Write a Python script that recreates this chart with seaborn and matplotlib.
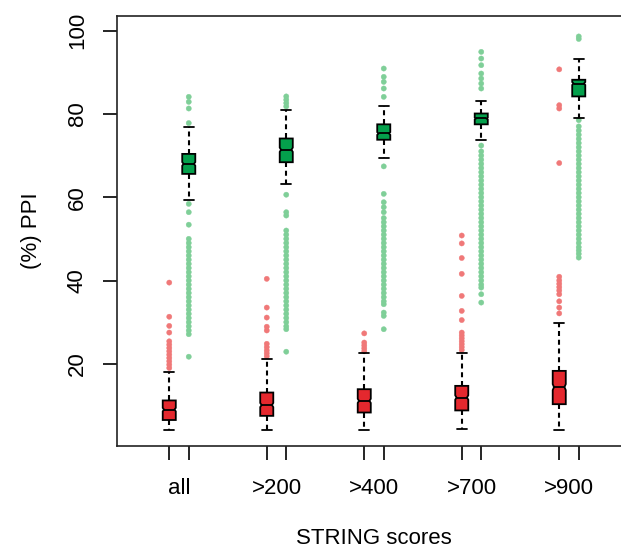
import numpy as np
import pandas as pd
import seaborn as sns
from matplotlib import pyplot as plt

categories = ["all", ">200", ">400", ">700", ">900"]
groups = ["low", "high"]

# box summaries: lower whisker, q1, median, q3, upper whisker
low_stats = [
    [4.0, 6.5, 9.0, 11.2, 18.1],
    [4.0, 7.5, 10.1, 13.1, 21.1],
    [4.0, 8.3, 11.1, 13.9, 22.5],
    [4.3, 8.8, 11.9, 14.7, 22.7],
    [4.0, 10.3, 14.4, 18.3, 29.9],
]
high_stats = [
    [59.4, 65.6, 68.0, 70.4, 76.9],
    [63.1, 68.4, 71.4, 74.1, 81.0],
    [69.5, 73.8, 75.3, 77.5, 81.8],
    [73.8, 77.5, 78.9, 80.1, 83.0],
    [78.9, 84.2, 87.3, 88.2, 93.1],
]

low_outliers = [
    [19.0, 19.8, 20.6, 21.4, 22.2, 23.0, 23.8, 24.6, 25.4, 27.5, 29.1, 31.3, 39.5],
    [21.8, 22.5, 23.2, 24.0, 24.8, 28.0, 28.9, 31.1, 33.5, 40.4],
    [23.0, 23.7, 24.4, 25.1, 27.3],
    [23.3, 24.0, 24.7, 25.4, 26.1, 26.8, 27.5, 30.5, 32.7, 36.3, 41.6, 45.4, 48.9, 50.8],
    [32.1, 33.5, 35.0, 36.7, 37.6, 38.4, 39.2, 40.0, 40.9, 68.2, 81.3, 82.1, 90.7],
]
high_outliers = [
    [21.7, 27.1, 28, 29, 30, 31, 32, 33, 34, 35, 36, 37, 38, 39, 40, 41, 42, 43, 44,
     45, 46, 47, 48, 49, 50, 53.4, 56.4, 58.4, 77.8, 81.3, 82.9, 84.1],
    [22.9, 28.3, 29, 30, 31, 32, 33, 34, 35, 36, 37, 38, 39, 40, 41, 42, 43, 44, 45,
     46, 47, 48, 49, 50, 51, 52, 55.6, 56.4, 60.6, 81.8, 82.6, 83.4, 84.2],
    [28.3, 31.5, 32.3, 34.3, 35, 36, 37, 38, 39, 40, 41, 42, 43, 44, 45, 46, 47, 48,
     49, 50, 51, 52, 53, 54, 55, 56.4, 57.6, 58.8, 60.8, 67.4,
     84.1, 86.1, 87.7, 88.9, 90.9],
    [34.7, 36.7, 38.3, 39, 40, 41, 42, 43, 44, 45, 46, 47, 48, 49, 50, 51, 52, 53, 54,
     55, 56, 57, 58, 59, 60, 61, 62, 63, 64, 65, 66, 67, 68, 69, 70, 71, 72.4,
     86.1, 87.3, 88.5, 89.7, 91.7, 93.3, 94.9],
    [45.5, 46.4, 47.2, 48, 49, 50, 51, 52, 53, 54, 55, 56, 57, 58, 59, 60, 61, 62, 63,
     64, 65, 66, 67, 68, 69, 70, 71, 72, 73, 74, 75, 76, 77, 78.5, 98.0, 98.6],
]

box_colors = {"low": "#e4282e", "high": "#04a04c"}
dot_colors = {"low": "#f07878", "high": "#7fcf98"}
offset = {"low": -0.1, "high": 0.1}

box_rows, out_rows = [], []
for i, cat in enumerate(categories):
    for g, stats, outs in [("low", low_stats, low_outliers), ("high", high_stats, high_outliers)]:
        for v in stats[i]:
            box_rows.append({"pos": i + offset[g], "group": g, "value": v})
        for v in outs[i]:
            out_rows.append({"pos": i + offset[g], "group": g, "value": v})
box_df = pd.DataFrame(box_rows)
out_df = pd.DataFrame(out_rows)

sns.set_style("white")
plt.rcParams["font.family"] = ["Liberation Sans", "DejaVu Sans"]
plt.rcParams["font.size"] = 16
for key in ["text.color", "axes.labelcolor", "xtick.color", "ytick.color"]:
    plt.rcParams[key] = "black"

fig = plt.figure(figsize=(6.21, 5.53), dpi=100)
ax = fig.add_axes([117 / 621, 1 - 446 / 553, 514 / 621, (446 - 15.8) / 553])

sns.scatterplot(data=out_df, x="pos", y="value", hue="group", palette=dot_colors,
                s=14, linewidth=0.3, edgecolor=None, legend=False, ax=ax, zorder=1)

sns.boxplot(data=box_df, x="pos", y="value", hue="group", native_scale=True, dodge=False,
            palette=box_colors, whis=(0, 100), showfliers=False, notch=True, width=0.67,
            linecolor="black", linewidth=1.3, saturation=1,
            whiskerprops=dict(linestyle=(0, (2.4, 1.8)), linewidth=1.5),
            legend=False, ax=ax)

# shallow notches like R draws them for large samples
for patch in ax.patches:
    v = patch.get_path().vertices
    if len(v) >= 11:
        q1, med, q3 = v[0, 1], v[3, 1], v[5, 1]
        d = 0.09 * (q3 - q1)
        v[[2, 9], 1] = med - d
        v[[4, 7], 1] = med + d
        half = (v[1, 0] - v[0, 0]) / 2
        mid = (v[1, 0] + v[0, 0]) / 2
        v[3, 0] = mid + 0.8 * half
        v[8, 0] = mid - 0.8 * half
for line in ax.lines:
    x = line.get_xdata()
    y = line.get_ydata()
    # widen median segments to the notch points
    if len(x) == 2 and y[0] == y[1] and line.get_linestyle() == "-":
        mid = (x[0] + x[1]) / 2
        half = (x[1] - x[0]) / 2
        if abs(half - 0.067 / 2) < 0.01:
            line.set_xdata([mid - 1.6 * half, mid + 1.6 * half])

ax.set_xlim(-0.636, 4.636)
ax.set_ylim(0.26, 103.56)

tick_pos = [i + offset[g] for i in range(len(categories)) for g in groups]
ax.set_xticks(tick_pos)
ax.set_xticklabels([""] * len(tick_pos))
ax.set_xticks(range(len(categories)), minor=True)
ax.set_xticklabels(categories, minor=True)
ax.tick_params(axis="x", which="major", length=10, width=1.2, direction="out", bottom=True)
ax.tick_params(axis="x", which="minor", length=0, pad=23, bottom=True)

ax.set_yticks([20, 40, 60, 80, 100])
ax.tick_params(axis="y", length=10, width=1.2, direction="out", left=True, pad=11)
for lbl in ax.get_yticklabels():
    lbl.set_rotation(90)
    lbl.set_va("center")

for sp in ax.spines.values():
    sp.set_visible(True)
    sp.set_color("#222222")
    sp.set_linewidth(1.2)

ax.set_xlabel("STRING scores", labelpad=21)
ax.set_ylabel("(%) PPI", labelpad=18)

plt.savefig("out.png", dpi=100)
plt.close()
